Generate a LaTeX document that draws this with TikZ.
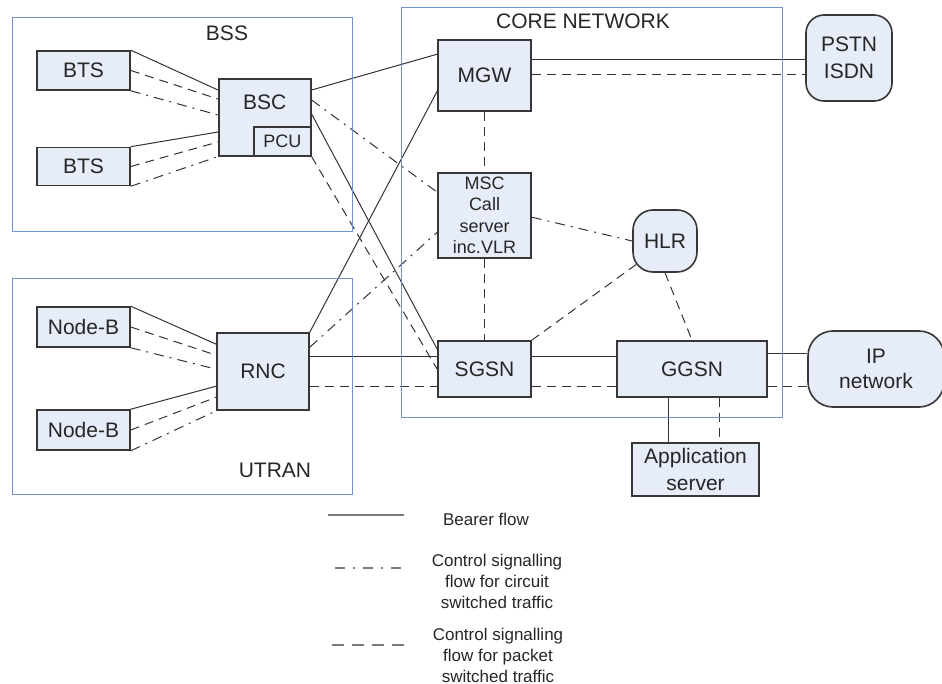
\documentclass[tikz,border=0pt]{standalone}
\usepackage{fontspec}
\setmainfont{Liberation Sans}
\usetikzlibrary{calc, backgrounds}
\definecolor{boxfill}{RGB}{230,236,248}
\definecolor{boxline}{RGB}{55,55,55}
\definecolor{frameblue}{RGB}{113,147,205}
\definecolor{linegray}{RGB}{51,51,51}
\definecolor{txtgray}{RGB}{38,38,38}
\definecolor{leggray}{RGB}{125,125,125}

\begin{document}
\begin{tikzpicture}[x=1pt, y=-1pt,
    box/.style={draw=boxline, line width=1.6pt, fill=boxfill, inner sep=0pt,
      text=txtgray, font=\fontsize{21}{25}\selectfont, align=center},
    roundbox/.style={box, rounded corners=18pt},
    smallbox/.style={box, font=\fontsize{18}{21.5}\selectfont},
    netframe/.style={draw=frameblue, line width=1pt},
    frametext/.style={text=txtgray, font=\fontsize{21}{25}\selectfont},
    bearer/.style={draw=linegray, line width=1pt},
    circuit/.style={bearer, dash pattern=on 10pt off 6pt on 2pt off 6pt},
    packet/.style={bearer, dash pattern=on 9pt off 6pt},
    legline/.style={draw=leggray, line width=1.8pt},
    legtext/.style={text=txtgray, font=\fontsize{17}{21}\selectfont, align=center}]
  \useasboundingbox (0,0) rectangle (942,684);

  % bss
  \draw[netframe] (12,18) rectangle (352,232);
  \node[frametext] (bsslabel) at (227,33) {BSS};
  \node[box, minimum width=93pt, minimum height=39pt] (bts1) at (83.5,70.5) {BTS};
  \node[box, minimum width=93pt, minimum height=38pt] (bts2) at (83.5,166.5) {BTS};
  \node[box, anchor=north west, minimum width=92pt, minimum height=77pt] (bsc) at (218,78) {};
  \node[frametext] (bsctext) at ($(bsc.north)+(0,24)$) {BSC};
  \node[smallbox, anchor=south east, minimum width=57pt, minimum height=29pt] (pcu) at (bsc.south east) {PCU};

  % utran
  \draw[netframe] (12,279) rectangle (352,494);
  \node[frametext] (utranlabel) at (275,470) {UTRAN};
  \node[box, minimum width=93pt, minimum height=40pt] (nodeb1) at (83.5,327) {Node-B};
  \node[box, minimum width=93pt, minimum height=40pt] (nodeb2) at (83.5,430) {Node-B};
  \node[box, minimum width=92pt, minimum height=77pt] (rnc) at (263,371.5) {RNC};

  % core network
  \draw[netframe] (401,8) rectangle (782,417);
  \node[frametext] (corelabel) at (583,21) {CORE NETWORK};
  \node[box, minimum width=93pt, minimum height=71pt] (mgw) at (484.5,75.5) {MGW};
  \node[smallbox, minimum width=93pt, minimum height=85pt] (msc) at (484.5,215.5) {MSC\\Call\\server\\inc.VLR};
  \node[roundbox, rounded corners=20pt, minimum width=64pt, minimum height=62pt] (hlr) at (665,241) {HLR};
  \node[box, minimum width=93pt, minimum height=56pt] (sgsn) at (484.5,369) {SGSN};
  \node[box, minimum width=150pt, minimum height=56pt] (ggsn) at (692,369) {GGSN};

  % outside
  \node[roundbox, font=\fontsize{21}{27}\selectfont, minimum width=86pt, minimum height=86pt] (pstn) at (849,58) {PSTN\\ISDN};
  \node[roundbox, rounded corners=25pt, minimum width=136pt, minimum height=76pt] (ip) at (876,369) {IP\\network};
  \node[box, font=\fontsize{21}{27}\selectfont, minimum width=127pt, minimum height=53pt] (app) at (695.5,469.5) {Application\\server};

  \begin{pgfonlayer}{background}
    % bts -- bsc
    \draw[bearer] (bts1.north east) -- ($(bsc.north west)+(0,12)$);
    \draw[packet] (bts1.east) -- ($(bsc.north west)+(0,21)$);
    \draw[circuit] (bts1.south east) -- ($(bsc.north west)+(0,37)$);
    \draw[bearer] (bts2.north east) -- ($(bsc.north west)+(0,54)$);
    \draw[packet] (bts2.east) -- ($(bsc.north west)+(0,64)$);
    \draw[circuit] (bts2.south east) -- (bsc.south west);
    % node-b -- rnc
    \draw[bearer] (nodeb1.north east) -- ($(rnc.north west)+(0,12)$);
    \draw[packet] (nodeb1.east) -- ($(rnc.north west)+(0,23)$);
    \draw[circuit] (nodeb1.south east) -- ($(rnc.north west)+(0,37)$);
    \draw[bearer] (nodeb2.north east) -- ($(rnc.north west)+(0,54)$);
    \draw[packet] (nodeb2.east) -- ($(rnc.north west)+(0,65)$);
    \draw[circuit] (nodeb2.south east) -- (rnc.south west);
    % bsc and rnc -- core
    \draw[bearer] ($(bsc.north east)+(0,12)$) -- ($(mgw.north west)+(0,15)$);
    \draw[circuit] ($(bsc.north east)+(0,22)$) -- ($(msc.north west)+(0,20)$);
    \draw[bearer] ($(bsc.north east)+(0,36)$) -- ($(sgsn.north west)+(0,9)$);
    \draw[packet] (pcu.south east) -- ($(sgsn.north west)+(0,29)$);
    \draw[bearer] (rnc.north east) -- ($(mgw.north west)+(0,52)$);
    \draw[circuit] ($(rnc.north east)+(0,15)$) -- ($(msc.north west)+(0,60)$);
    \draw[bearer] ($(rnc.north east)+(0,24)$) -- ($(sgsn.north west)+(0,16)$);
    \draw[packet] ($(rnc.north east)+(0,54)$) -- ($(sgsn.north west)+(0,46)$);
    % inside core
    \draw[bearer] ($(mgw.north east)+(0,20)$) -- ($(pstn.north west)+(0,45)$);
    \draw[packet] ($(mgw.north east)+(0,35)$) -- ($(pstn.north west)+(0,60)$);
    \draw[packet] (mgw.south) -- (msc.north);
    \draw[circuit] ($(msc.north east)+(0,45)$) -- (hlr.west);
    \draw[packet] (msc.south) -- (sgsn.north);
    \draw[packet] (sgsn.north east) -- ($(hlr.center)+(-24,20)$);
    \draw[packet] (hlr.south) -- (ggsn.north);
    \draw[bearer] ($(sgsn.north east)+(0,16)$) -- ($(ggsn.north west)+(0,16)$);
    \draw[packet] ($(sgsn.north east)+(0,46)$) -- ($(ggsn.north west)+(0,46)$);
    \draw[bearer] ($(ggsn.north east)+(0,13)$) -- ($(ip.north west)+(0,23)$);
    \draw[packet] ($(ggsn.north east)+(0,46)$) -- ($(ip.north west)+(0,56)$);
    \draw[bearer] ($(ggsn.south west)+(52,0)$) -- ($(app.north west)+(37,0)$);
    \draw[packet] ($(ggsn.south west)+(103,0)$) -- ($(app.north west)+(88,0)$);
  \end{pgfonlayer}

  % legend
  \coordinate (bearA) at (328,515);
  \coordinate (bearB) at (404,515);
  \draw[legline] (bearA) -- (bearB);
  \node[legtext] (beartext) at (486,519) {Bearer flow};
  \coordinate (circA) at (335,568);
  \coordinate (circB) at (404,568);
  \draw[legline, dash pattern=on 10pt off 8pt on 2pt off 8pt] (circA) -- (circB);
  \node[legtext] (circtext) at (497,581) {Control signalling\\flow for circuit\\switched traffic};
  \coordinate (packA) at (332,645);
  \coordinate (packB) at (404,645);
  \draw[legline, dash pattern=on 12pt off 8pt] (packA) -- (packB);
  \node[legtext] (packtext) at (498,655) {Control signalling\\flow for packet\\switched traffic};
\end{tikzpicture}
\end{document}
